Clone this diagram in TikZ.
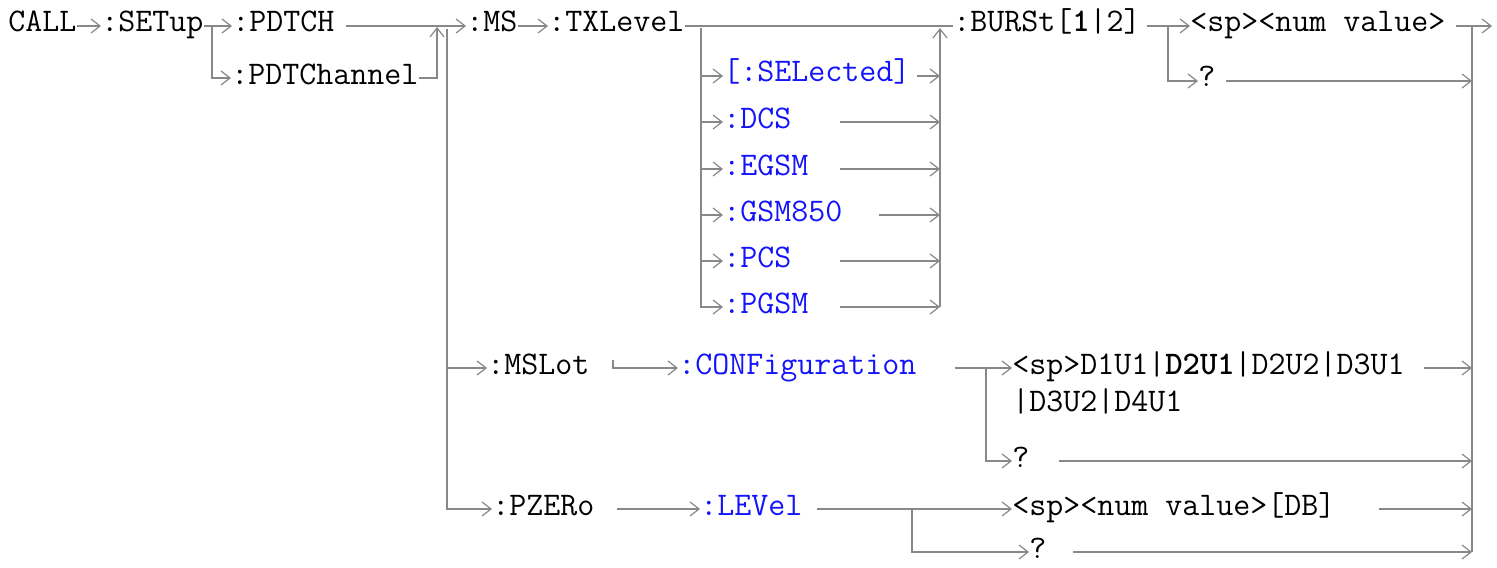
\documentclass[tikz,border=0pt]{standalone}
\usetikzlibrary{arrows.meta}
\definecolor{railgray}{RGB}{136,136,136}
\definecolor{optblue}{RGB}{20,20,250}
\tikzset{
  kw/.style={anchor=west,inner sep=0pt,text height=9pt,text depth=3pt,
    font=\ttfamily\fontsize{16.5pt}{20pt}\selectfont},
  opt/.style={kw,text=optblue},
  rail/.style={draw=railgray,line width=1pt},
  arw/.style={-{Straight Barb[length=4.5pt,width=7pt,line width=0.6pt]}}
}
\begin{document}
\begin{tikzpicture}[x=0.5pt,y=-0.5pt]
  \useasboundingbox (0,0) rectangle (1497,567);
  \node[kw] (call) at (8,26) {CALL};
  \node[kw] (setup) at (101,26) {:SETup};
  \node[kw] (pdtch) at (232,26) {:PDTCH};
  \node[kw] (pdtchan) at (231,78) {:PDTChannel};
  \node[kw] (ms) at (466,26) {:MS};
  \node[kw] (txl) at (548,26) {:TXLevel};
  \node[opt] (sel) at (723,76) {[:SELected]};
  \node[opt] (dcs) at (723,122) {:DCS};
  \node[opt] (egsm) at (723,169) {:EGSM};
  \node[opt] (gsm) at (723,215) {:GSM850};
  \node[opt] (pcs) at (723,261) {:PCS};
  \node[opt] (pgsm) at (723,307) {:PGSM};
  \node[kw] (burst) at (953,26) {:BURSt[\textbf{1}|2]};
  \node[kw] (bnum) at (1190,26) {<sp><num value>};
  \node[kw] (bq) at (1198,81) {?};
  \node[kw] (mslot) at (487,368) {:MSLot};
  \node[opt] (conf) at (678,368) {:CONFiguration};
  \node[kw] (cval) at (1012,368) {<sp>D1U1|\textbf{D2U1}|D2U2|D3U1};
  \node[kw] (cval2) at (1012,405) {|D3U2|D4U1};
  \node[kw] (cq) at (1012,461) {?};
  \node[kw] (pzero) at (492,509) {:PZERo};
  \node[opt] (level) at (700,509) {:LEVel};
  \node[kw] (lval) at (1012,509) {<sp><num value>[DB]};
  \node[kw,text height=7pt,text depth=1pt] (lq) at (1029,552) {?};

  \coordinate (j1) at (212,26); \coordinate (j2) at (437,27);
  \coordinate (j3) at (447,29); \coordinate (j4) at (701,28);
  \coordinate (j5) at (940,28); \coordinate (j6) at (1168,26);
  \coordinate (j7) at (1472,26); \coordinate (out) at (1492,26);
  \coordinate (k1) at (613,360); \coordinate (k2) at (986,368);
  \coordinate (k3) at (912,509);

  \draw[rail,arw] (call) -- (setup);
  \draw[rail] (setup) -- (j1);
  \draw[rail,arw] (j1) -- (pdtch);
  \draw[rail,arw] (j1) |- (pdtchan);
  \draw[rail,arw] ([xshift=5.5pt]pdtch.east) -- (ms);
  \draw[rail,arw] (pdtchan) -| (j2);
  \draw[rail,arw] (j3) |- (mslot);
  \draw[rail,arw] (j3) |- (pzero);
  \draw[rail,arw] (ms) -- (txl);
  \draw[rail] (txl) -- (burst);
  \foreach \n in {sel,dcs,egsm,gsm,pcs,pgsm}
    \draw[rail,arw] (j4) |- (\n);
  \foreach \n/\s in {sel/3pt,dcs/24pt,egsm/15.5pt,gsm/18pt,pcs/24pt,pgsm/15.5pt}
    \draw[rail,arw] ([xshift=\s]\n.east) -- (j5 |- \n);
  \draw[rail,arw] (j5 |- pgsm) -- (j5);

  \draw[rail,arw] ([xshift=3pt]burst.east) -- (bnum);
  \draw[rail,arw] (j6) |- (bq);
  \draw[rail,arw] ([xshift=5pt]bnum.east) -- (out);
  \draw[rail,arw] ([xshift=5pt]bq.east) -- (j7 |- bq);
  \draw[rail] (j7) -- (j7 |- lq);

  \draw[rail,arw] (k1) |- (conf);
  \draw[rail,arw] ([xshift=19pt]conf.east) -- (cval);
  \draw[rail,arw] (k2) |- (cq);
  \draw[rail,arw] ([xshift=9.5pt]cval.east) -- (j7 |- cval);
  \draw[rail,arw] ([xshift=14.5pt]cq.east) -- (j7 |- cq);

  \draw[rail,arw] ([xshift=11pt]pzero.east) -- (level);
  \draw[rail,arw] ([xshift=7pt]level.east) -- (lval);
  \draw[rail,arw] (k3) |- (lq);
  \draw[rail,arw] ([xshift=21.5pt]lval.east) -- (j7 |- lval);
  \draw[rail,arw] ([xshift=13pt]lq.east) -- (j7 |- lq);
\end{tikzpicture}
\end{document}
